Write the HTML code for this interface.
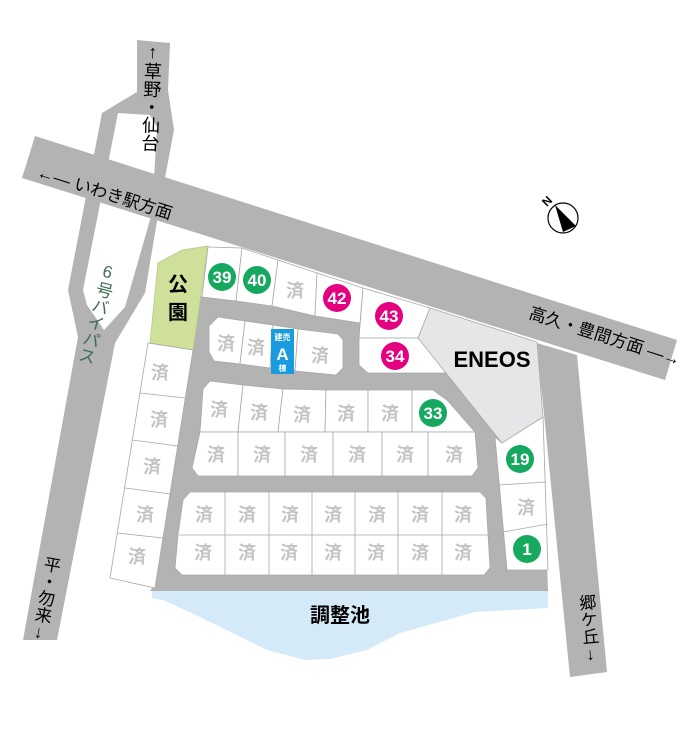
<!DOCTYPE html>
<html><head><meta charset="utf-8"><style>
html,body{margin:0;padding:0;background:#fff}
svg{display:block}
text{font-family:"Liberation Sans","Noto Sans CJK JP",sans-serif}
.s{fill:#c4c4c4;font-weight:bold;font-size:18px;text-anchor:middle}
.n{fill:#fff;font-weight:bold;font-size:17px;text-anchor:middle}
.lot{fill:#fff;stroke:#a8a8a8;stroke-width:0.8}
.r{fill:#b3b3b3}
.v{writing-mode:vertical-rl;text-orientation:upright}
</style></head><body>
<svg width="698" height="740" viewBox="0 0 698 740" xmlns="http://www.w3.org/2000/svg">
<!-- bypass -->
<polygon class="r" points="137,40 170,43 168,90 174,130 158,215 145,293 115,343 57,640 23,640 78,337 68,290 102,113 137,92"/>
<polygon fill="#fff" points="118,113 150,115 157,127 152,213 125,307 104,330 87,305 83,290"/>
<!-- main road -->
<polygon class="r" points="35,136 677,340 665,380 22,178"/>
<polygon class="r" points="537,343 577,355 607,672 570,677"/>
<!-- development gray -->
<polygon class="r" points="200,296 540,345 548,591 150,591 152,588"/>
<!-- pond -->
<path fill="#d4eaf8" d="M152,591 L548,591 L548,608 L475,612 L400,633 L367,650 L330,659 L305,660 L267,650 L200,617 L163,600 L152,598 Z"/>
<!-- park -->
<polygon fill="#cfe09b" stroke="#b8c98a" stroke-width="0.8" points="158,263 182,250 208,246 193,350 150,343"/>
<text x="178" y="291" font-size="20" font-weight="bold" text-anchor="middle">公</text>
<text x="178" y="319" font-size="20" font-weight="bold" text-anchor="middle">園</text>
<!-- top row lots -->
<polygon class="lot" points="208,247 242,248 236,301 202,297"/>
<polygon class="lot" points="242,248 278,260 272,306 236,301"/>
<polygon class="lot" points="278,260 317,273 315,316 272,306"/>
<polygon class="lot" points="317,273 363,288 360,323 315,316"/>
<polygon class="lot" points="363,288 430,308 418,338 359,338"/>
<polygon class="lot" points="359,338 418,338 452,373 368,373 359,365"/>
<!-- ENEOS -->
<polygon fill="#e6e6e8" stroke="#aaa" stroke-width="0.8" points="430,308 537,342 543,417 502,443 418,338"/>
<text x="492" y="367" font-size="22" font-weight="bold" text-anchor="middle">ENEOS</text>
<!-- A block -->
<polygon class="lot" points="218,317 245,321 240,364 214,361 209,352 209,326"/>
<polygon class="lot" points="245,321 273,325 270,368 240,364"/>
<polygon class="lot" points="273,325 298,329 295,371 270,368"/>
<polygon class="lot" points="298,329 338,334 343,340 343,368 336,375 295,371"/>
<rect x="271" y="329" width="23" height="45" fill="#1a9be0"/>
<text x="282.5" y="340" font-size="8" fill="#fff" text-anchor="middle" font-weight="bold">建売</text>
<text x="282.5" y="360" font-size="17" fill="#fff" text-anchor="middle" font-weight="bold">A</text>
<text x="282.5" y="371" font-size="8" fill="#fff" text-anchor="middle" font-weight="bold">棟</text>
<!-- block 2 -->
<polygon class="lot" points="210,381 243,385 238,432 200,432 203,389"/>
<polygon class="lot" points="243,385 283,389 278,432 238,432"/>
<polygon class="lot" points="283,389 326,390 325,432 278,432"/>
<polygon class="lot" points="326,390 368,390 368,432 325,432"/>
<polygon class="lot" points="368,390 412,390 412,432 368,432"/>
<polygon class="lot" points="412,390 433,390 447,400 475,432 412,432"/>
<polygon class="lot" points="200,432 238,432 238,476 198,476 192,468"/>
<polygon class="lot" points="238,432 285,432 285,476 238,476"/>
<polygon class="lot" points="285,432 333,432 333,476 285,476"/>
<polygon class="lot" points="333,432 382,432 382,476 333,476"/>
<polygon class="lot" points="382,432 428,432 428,476 382,476"/>
<polygon class="lot" points="428,432 475,432 478,468 472,476 428,476"/>
<!-- block 3 -->
<polygon class="lot" points="190,492 480,492 486,498 490,568 484,575 182,575 175,568 178,535 183,500"/>
<g stroke="#a8a8a8" stroke-width="0.8">
<line x1="179" y1="535" x2="488" y2="535"/>
<line x1="225" y1="492" x2="225" y2="575"/><line x1="269" y1="492" x2="269" y2="575"/>
<line x1="312" y1="492" x2="312" y2="575"/><line x1="355" y1="492" x2="355" y2="575"/>
<line x1="398" y1="492" x2="398" y2="575"/><line x1="442" y1="492" x2="442" y2="575"/>
</g>
<!-- right column -->
<polygon class="lot" points="495,437 502,443 543,417 548,570 507,570"/>
<g stroke="#a8a8a8" stroke-width="0.8">
<line x1="499" y1="485" x2="546" y2="482"/><line x1="503" y1="532" x2="548" y2="524"/>
</g>
<!-- left column -->
<polygon class="lot" points="148,343 193,350 155,588 110,578"/>
<g stroke="#a8a8a8" stroke-width="0.8">
<line x1="140" y1="393" x2="185" y2="398"/><line x1="132" y1="440" x2="178" y2="446"/>
<line x1="125" y1="488" x2="170" y2="494"/><line x1="117" y1="533" x2="163" y2="538"/>
</g>
<!-- 済 labels -->
<g class="s">
<text x="295" y="297">済</text>
<text x="226" y="350">済</text><text x="256" y="354">済</text><text x="320" y="362">済</text>
<text x="219" y="416">済</text><text x="259" y="419">済</text><text x="302" y="421">済</text><text x="346" y="420">済</text><text x="390" y="420">済</text>
<text x="216" y="461">済</text><text x="262" y="461">済</text><text x="309" y="461">済</text><text x="357" y="461">済</text><text x="405" y="461">済</text><text x="454" y="461">済</text>
<text x="204" y="521">済</text><text x="247" y="521">済</text><text x="290" y="521">済</text><text x="333" y="521">済</text><text x="377" y="521">済</text><text x="420" y="521">済</text><text x="463" y="521">済</text>
<text x="203" y="559">済</text><text x="247" y="559">済</text><text x="289" y="559">済</text><text x="333" y="559">済</text><text x="376" y="559">済</text><text x="420" y="559">済</text><text x="463" y="559">済</text>
<text x="526" y="514">済</text>
<text x="160" y="379">済</text><text x="159" y="426">済</text><text x="152" y="473">済</text><text x="145" y="521">済</text><text x="137" y="563">済</text>
</g>
<!-- circles -->
<g>
<circle cx="222" cy="277" r="14" fill="#16a85f"/><text class="n" x="222" y="283">39</text>
<circle cx="257" cy="280" r="14" fill="#16a85f"/><text class="n" x="257" y="286">40</text>
<circle cx="337" cy="298" r="14" fill="#e4007f"/><text class="n" x="337" y="304">42</text>
<circle cx="389" cy="316" r="14" fill="#e4007f"/><text class="n" x="389" y="322">43</text>
<circle cx="395" cy="356" r="14" fill="#e4007f"/><text class="n" x="395" y="362">34</text>
<circle cx="433" cy="413" r="14" fill="#16a85f"/><text class="n" x="433" y="419">33</text>
<circle cx="520" cy="459" r="14" fill="#16a85f"/><text class="n" x="520" y="465">19</text>
<circle cx="527" cy="549" r="14" fill="#16a85f"/><text class="n" x="527" y="555">1</text>
</g>
<text x="340" y="622" font-size="20" font-weight="bold" text-anchor="middle">調整池</text>
<!-- road labels -->
<text x="36" y="177" font-size="17" transform="rotate(17.6 36 177)">←― いわき駅方面</text>
<text x="528" y="318" font-size="17" transform="rotate(17.6 528 318)">高久・豊間方面 ―→</text>
<text font-size="18" class="v" x="153" y="42" transform="rotate(2 153 42)">↑草野・仙台</text>
<text font-size="17" fill="#3d6b50" class="v" x="110" y="263" transform="rotate(15 110 263)">6号バイパス</text>
<text font-size="17" class="v" x="52" y="556" transform="rotate(10 52 556)">平・勿来↓</text>
<text font-size="17" class="v" x="585" y="594" transform="rotate(-5 585 594)">郷ケ丘↓</text>
<!-- north -->
<circle cx="563" cy="218" r="15" fill="#fff" stroke="#000" stroke-width="1.2"/>
<polygon points="555,205 576,226 563,232" fill="#000"/>
<text x="550" y="204" font-size="12" font-weight="bold" transform="rotate(-45 550 204)" text-anchor="middle">N</text>
</svg>
</body></html>
